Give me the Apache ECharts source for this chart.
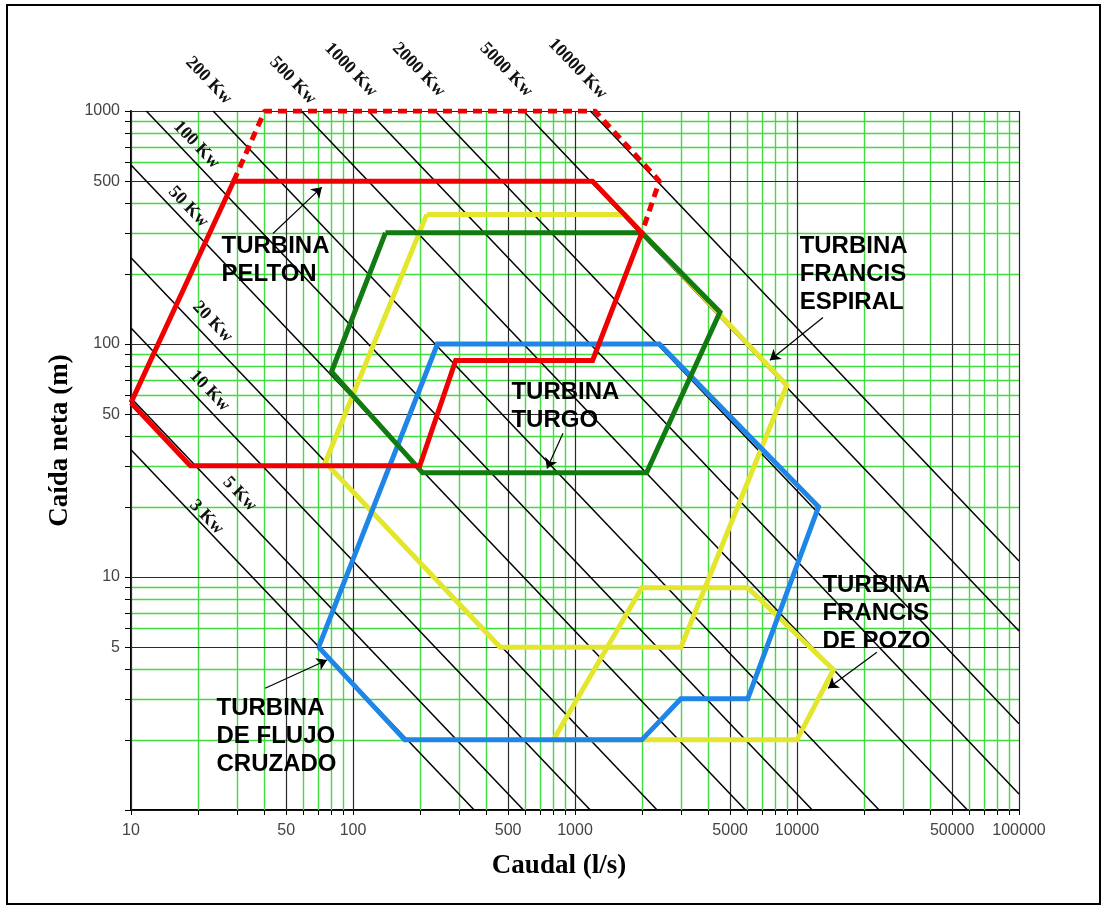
<!DOCTYPE html>
<html>
<head>
<meta charset="utf-8">
<title>Selección de turbinas</title>
<script src="https://cdn.jsdelivr.net/npm/echarts@6/dist/echarts.min.js"></script>
<style>
  html, body { margin: 0; padding: 0; background: #fff; }
  #chart { width: 1102px; height: 907px; }
</style>
</head>
<body>
<div id="chart"></div>
<script>
// --- ejes (log-log) ---
const decadesQ = [10, 100, 1000, 10000]
const decadesH = [1, 10, 100]
const steps = [1, 2, 3, 4, 5, 6, 7, 8, 9]
const qTicks = decadesQ.flatMap(d => steps.map(s => s * d)).concat([100000])
const hTicks = decadesH.flatMap(d => steps.map(s => s * d)).concat([1000])
const qMajor = [10, 50, 100, 500, 1000, 5000, 10000, 50000, 100000]
const hMajor = [1, 5, 10, 50, 100, 500, 1000]
const qLabels = [10, 50, 100, 500, 1000, 5000, 10000, 50000, 100000]
const hLabels = [5, 10, 50, 100, 500, 1000]

// --- lineas de potencia constante (kW) ---
const powerKw = [3, 5, 10, 20, 50, 100, 200, 500, 1000, 2000, 5000, 10000]
const efficiency = 0.87
const qhPerKw = 1000 / (9.81 * efficiency) // Q(l/s) * H(m) por kW

// --- zonas de aplicación [Q l/s, H m] ---
const pelton = [[10, 56], [29, 500], [1200, 500], [2000, 300], [1200, 85], [290, 85], [200, 30], [18.5, 30], [10, 56]]
const peltonExt = [[29, 500], [40, 1000], [1230, 1000], [2400, 500], [2000, 300]]
const turgo = [[140, 300], [2000, 300], [4500, 137], [2100, 28], [206, 28], [80, 76], [140, 300]]
const francisEspiral = [[215, 360], [1680, 360], [9000, 66.5], [3000, 5], [460, 5], [75, 31], [215, 360]]
const francisPozo = [[800, 2], [2000, 9], [6000, 9], [14600, 4], [10000, 2], [800, 2]]
const flujoCruzado = [[70, 5], [171, 2], [2000, 2], [3000, 3], [6000, 3], [12500, 20], [2400, 100], [240, 100], [70, 5]]

// --- anotaciones ---
const turbineNames = ['TURBINA\nPELTON', 'TURBINA\nTURGO', 'TURBINA\nFRANCIS\nESPIRAL', 'TURBINA\nFRANCIS\nDE POZO', 'TURBINA\nDE FLUJO\nCRUZADO']
const turbineNamePos = [[25.7, 227.6], [520, 53.5], [10330, 198], [13090, 6.92], [24.4, 2.07]]
const arrows = [
  [[43.6, 298], [72.4, 471]],
  [[883, 41.4], [748, 29.2]],
  [[13090, 130], [7550, 85.2]],
  [[22900, 4.75], [13800, 3.33]],
  [[40.2, 3.33], [76.4, 4.4]],
]
const powerLabelPos = [[22, 18], [31, 22.6], [22.7, 62.7], [23.4, 124], [18.2, 386], [19.8, 713],
  [22.5, 1344], [53.8, 1344], [98.2, 1496], [198.6, 1496], [492, 1496], [1033, 1510]]

const GREEN = '#40dc40'
const DARK = '#2a2a2a'

const chart = echarts.init(document.getElementById('chart'))

const vLine = q => ({ coords: [[q, 1], [q, 1000]] })
const hLine = h => ({ coords: [[10, h], [100000, h]] })
const plain = v => String(Math.round(v))

const powerLines = powerKw.map(p => {
  const c = p * qhPerKw
  const q0 = Math.max(10, c / 1000)
  const q1 = Math.min(100000, c / 1)
  return { coords: [[q0, c / q0], [q1, c / q1]] }
})

const zone = (data, color, extra) => Object.assign({
  type: 'line',
  data: data,
  symbol: 'none',
  z: 4,
  lineStyle: { color: color, width: 5, join: 'miter' },
}, extra || {})

chart.setOption({
  backgroundColor: '#fff',
  animation: false,
  grid: { left: 131, top: 111, right: 83, bottom: 97 },
  xAxis: {
    type: 'log',
    logBase: 10,
    min: 10,
    max: 100000,
    name: 'Caudal (l/s)',
    nameLocation: 'middle',
    nameGap: 43,
    nameTextStyle: { fontFamily: 'Liberation Serif', fontWeight: 'bold', fontSize: 27, color: '#000', padding: [0, 32, 0, 0] },
    axisLine: { lineStyle: { color: '#000', width: 2 } },
    axisTick: { customValues: qTicks, length: 5, lineStyle: { color: '#000' } },
    axisLabel: { customValues: qLabels, formatter: plain, margin: 13, color: '#444', fontSize: 16, fontFamily: 'Liberation Sans' },
    splitLine: { show: false },
  },
  yAxis: {
    type: 'log',
    logBase: 10,
    min: 1,
    max: 1000,
    name: 'Caída neta (m)',
    nameLocation: 'middle',
    nameGap: 49,
    nameTextStyle: { fontFamily: 'Liberation Serif', fontWeight: 'bold', fontSize: 27, color: '#000', padding: [0, 0, 0, 40] },
    axisLine: { lineStyle: { color: '#000', width: 2 } },
    axisTick: { customValues: hTicks, length: 6, lineStyle: { color: '#000' } },
    axisLabel: { customValues: hLabels, formatter: plain, margin: 11, color: '#444', fontSize: 16, fontFamily: 'Liberation Sans' },
    splitLine: { show: false },
  },
  graphic: [{
    type: 'rect',
    shape: { x: 7, y: 5, width: 1093, height: 899 },
    style: { fill: null, stroke: '#000', lineWidth: 2 },
    silent: true,
  }],
  series: [
    {
      type: 'lines', coordinateSystem: 'cartesian2d', silent: true, z: 1,
      data: qTicks.filter(q => !qMajor.includes(q)).map(vLine)
        .concat(hTicks.filter(h => !hMajor.includes(h)).map(hLine)),
      lineStyle: { color: GREEN, width: 1.4, opacity: 1 },
    },
    {
      type: 'lines', coordinateSystem: 'cartesian2d', silent: true, z: 2,
      data: qMajor.map(vLine).concat(hMajor.map(hLine)),
      lineStyle: { color: DARK, width: 1.2, opacity: 1 },
    },
    {
      type: 'lines', coordinateSystem: 'cartesian2d', silent: true, z: 3,
      data: powerLines,
      lineStyle: { color: '#000', width: 1.5, opacity: 1 },
    },
    zone(francisEspiral, '#e3e62c'),
    zone(francisPozo, '#e3e62c'),
    zone(flujoCruzado, '#1f86e8'),
    zone(turgo, '#117a11'),
    zone(peltonExt, '#f00000', { lineStyle: { color: '#f00000', width: 5, type: [9, 6] } }),
    zone(pelton, '#f00000'),
    {
      type: 'lines', coordinateSystem: 'cartesian2d', silent: true, z: 6,
      data: arrows.map(a => ({ coords: a })),
      symbol: ['none', 'arrow'],
      symbolSize: 10,
      lineStyle: { color: '#000', width: 1.2, opacity: 1 },
    },
    {
      type: 'scatter', silent: true, clip: false, z: 7,
      symbolSize: 1,
      itemStyle: { color: 'transparent', opacity: 1 },
      data: turbineNames.map((n, i) => ({ name: n, value: turbineNamePos[i] })),
      label: {
        show: true, position: [0, 0], formatter: '{b}', align: 'left', verticalAlign: 'middle',
        fontFamily: 'Liberation Sans', fontWeight: 'bold', fontSize: 24, lineHeight: 28, color: '#000',
      },
    },
    {
      type: 'scatter', silent: true, clip: false, z: 7,
      symbolSize: 1,
      itemStyle: { color: 'transparent', opacity: 1 },
      data: powerKw.map((p, i) => ({ name: p + ' Kw', value: powerLabelPos[i] })),
      label: {
        show: true, position: [0, 0], formatter: '{b}', rotate: -46, align: 'center', verticalAlign: 'middle',
        fontFamily: 'Liberation Serif', fontWeight: 'bold', fontSize: 18, color: '#111',
      },
    },
  ],
})
</script>
</body>
</html>
